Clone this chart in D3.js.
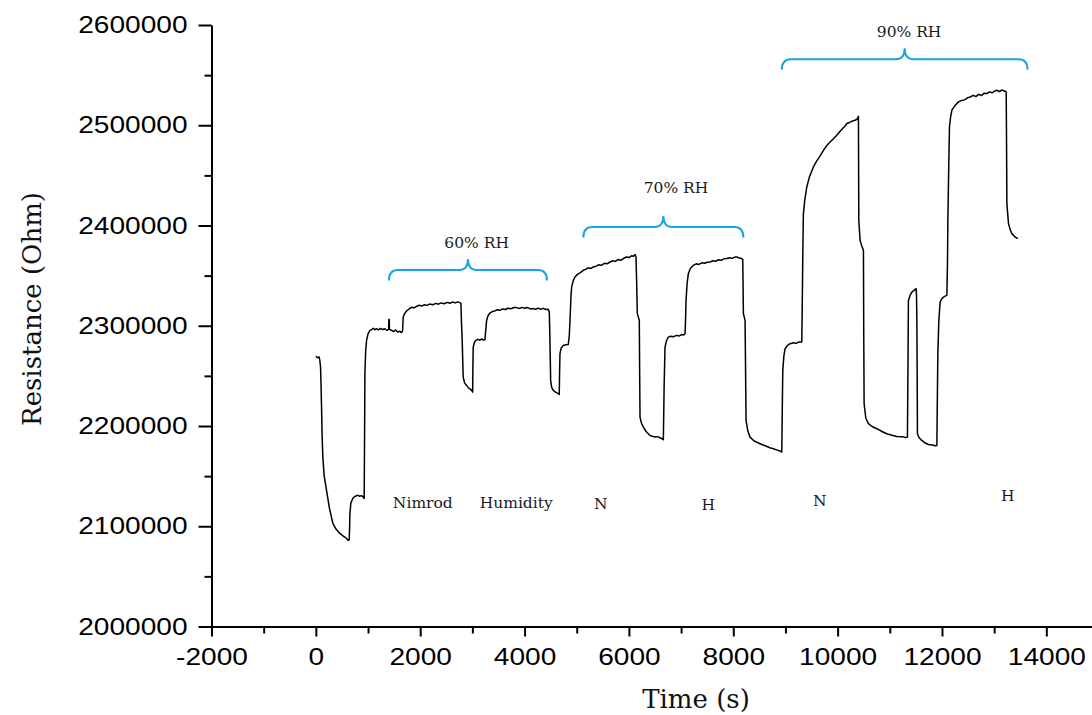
<!DOCTYPE html>
<html>
<head>
<meta charset="utf-8">
<script src="https://cdn.jsdelivr.net/npm/d3@7"></script>
<style>
  html, body { margin: 0; padding: 0; background: #ffffff; }
  svg { display: block; }
</style>
</head>
<body>
<svg id="chart" width="1092" height="715"></svg>
<script>
// ---------------- data ----------------
const timeS = [0,40,60,75,90,100,109,120,134,160,205,260,326,390,460,520,560,589,615,639,
648,652,670,709,740,770,805,840,870,901,926,
935,940,955,972,1000,1036,1070,1100,1130,1164,1200,1240,1280,1320,1360,1395,1400,1406,1410,1450,1490,1530,1570,1611,1640,1662,
1668,1674,1700,1739,1790,1840,1880,1931,1980,2030,2080,2130,2180,2243,2300,2350,2400,2460,2520,2569,2620,2670,2720,2761,2780,
2790,2805,2815,2824,2850,2890,2930,2960,2986,3005,
3010,3016,3040,3068,3100,3140,3180,3215,3241,3255,3273,3300,3336,3380,3430,3480,3528,3580,3630,3680,3740,3800,3848,3900,3950,4000,4060,4110,4161,4210,4260,4310,4360,4410,4454,4474,
4485,4500,4520,4550,4600,4640,4665,
4672,4679,4700,4742,4790,4838,4857,4871,4890,4903,4930,4966,5020,5070,5126,5170,5220,5270,5317,5370,5420,5470,5530,5580,5637,5690,5740,5790,5850,5900,5957,6000,6050,6090,6117,6136,
6150,6161,6199,6205,6213,6240,6276,6330,6405,6450,6500,6550,6596,6630,6660,
6675,6692,6720,6755,6800,6850,6916,6960,7010,7050,7076,7085,7095,7115,7139,7180,7235,7290,7340,7400,7450,7500,7555,7610,7660,7720,7770,7820,7875,7930,7980,8030,8067,8120,8160,8182,
8194,8226,8235,8245,8280,8322,8400,8514,8600,8700,8769,8830,8897,8930,
8940,8949,8970,8993,9040,9089,9150,9200,9260,9313,
9320,9333,9344,9370,9409,9460,9536,9600,9660,9728,9790,9850,9920,9984,10040,10100,10140,10176,10230,10280,10335,10370,10399,
10406,10431,10460,10495,10500,10508,10540,10591,10660,10752,10850,10943,11040,11135,11240,11300,11338,
11350,11357,11390,11423,11470,11505,11512,11519,11525,11530,11560,11614,11680,11741,11820,11870,11902,
11912,11921,11940,11965,12000,12029,12060,12094,
12105,12113,12130,12144,12165,12190,12250,12316,12380,12430,12490,12541,12600,12650,12700,12760,12810,12861,12910,12960,13010,13053,13100,13150,13190,13212,13231,
13238,13244,13275,13310,13340,13400,13455];

const resistanceOhm = [2269500,2268000,2269000,2266000,2258800,2240000,2218900,2190000,2169000,2150000,2135700,2118000,2102800,2097000,2092800,2090500,2089000,2087800,2086000,2086500,
2100000,2112000,2122800,2128000,2129500,2130200,2131000,2129800,2130500,2129700,2127700,
2200000,2252500,2275000,2285400,2292000,2295400,2296200,2297500,2296000,2297100,2295800,2297300,2296200,2297000,2295500,2296400,2306400,2306000,2296400,2295500,2294200,2295800,2293800,2294500,2293200,2294700,
2302000,2308700,2312000,2314700,2316800,2318500,2317800,2319400,2320500,2319600,2321000,2320300,2321600,2321000,2322300,2321500,2322800,2322000,2323300,2322500,2323600,2322800,2323800,2323100,2322100,
2305000,2285400,2265000,2248800,2243000,2240500,2237800,2236800,2235500,2233800,
2260000,2278700,2283500,2285400,2286500,2285600,2286800,2285800,2286100,2295000,2305400,2310000,2312700,2314200,2314800,2316000,2315400,2316800,2316200,2317500,2316900,2318200,2318100,2317200,2318300,2317400,2318100,2316800,2317100,2316500,2317600,2316400,2317300,2316200,2316400,2313700,
2290000,2245500,2238500,2235500,2233500,2232600,2231500,
2255000,2272200,2277500,2280400,2281000,2281400,2290000,2305400,2330000,2338600,2344500,2348600,2351500,2353000,2355300,2356200,2357800,2357200,2358600,2359400,2360800,2360300,2362300,2361800,2363600,2364800,2364200,2366000,2365400,2367300,2368600,2368000,2369800,2369400,2371000,2368600,
2340000,2312100,2305400,2260000,2208900,2203000,2198900,2194500,2190600,2189800,2189000,2189400,2188300,2187500,2186300,
2240000,2278700,2285000,2288700,2289600,2289000,2290400,2289700,2291200,2290800,2292100,2305000,2325300,2342000,2352000,2357300,2360300,2361800,2361200,2362800,2362300,2363400,2363600,2364800,2364300,2365800,2365300,2366800,2367000,2367800,2367200,2368500,2368600,2367500,2367000,2366300,
2312100,2305400,2260000,2205600,2195000,2188900,2185000,2182300,2180500,2178300,2177300,2176200,2175000,2174000,
2220000,2255500,2270000,2277100,2280500,2282100,2283000,2282400,2283800,2283700,
2310000,2372000,2411900,2425000,2438400,2448500,2458400,2464500,2469000,2475000,2479500,2483000,2486500,2490000,2493500,2497000,2499000,2501700,2502800,2504200,2505000,2506000,2509000,
2405200,2385200,2380000,2375000,2300000,2222300,2208000,2202300,2199500,2197300,2194500,2192300,2190800,2189600,2189400,2188600,2188900,
2270000,2325300,2330500,2333600,2335500,2337000,2330000,2305400,2250000,2192300,2188500,2185600,2183000,2181600,2181000,2180300,2180600,
2230000,2272200,2305000,2323700,2327000,2328600,2329500,2330300,
2360000,2405200,2460000,2498300,2508000,2515000,2519800,2523300,2524800,2525300,2527400,2528200,2529800,2528600,2530800,2529700,2532000,2531600,2533300,2532400,2534000,2534900,2533600,2535200,2534000,2534200,2533200,
2480000,2421800,2401900,2395500,2391900,2388500,2386900];

const xMajorTicks = [-2000,0,2000,4000,6000,8000,10000,12000,14000];
const xMinorTicks = [-1000,1000,3000,5000,7000,9000,11000,13000];
const yMajorTicks = [2000000,2100000,2200000,2300000,2400000,2500000,2600000];
const yMinorTicks = [2050000,2150000,2250000,2350000,2450000,2550000];

// brace annotations (data coordinates): start time, end time, level of flat part
const braceStart = [1400, 5126, 8930];
const braceEnd   = [4430, 8194, 13640];
const braceLevel = [2355600, 2398500, 2565900];
// brace labels (data coordinates of label baseline centre)
const braceLabel      = ["60% RH", "70% RH", "90% RH"];
const braceLabelTime  = [3082, 6903, 11370];
const braceLabelLevel = [2377300, 2432100, 2588300];

// gas labels (data coordinates)
const gasLabel = ["Nimrod", "Humidity", "N", "H", "N", "H"];
const gasTime  = [2050, 3840, 5460, 7520, 9660, 13260];
const gasLevel = [2118500, 2118500, 2117500, 2115800, 2120500, 2125500];

// ---------------- drawing ----------------
const svg = d3.select("#chart");
const x = d3.scaleLinear().domain([-2000, 15000]).range([211.5, 1098.5]);
const y = d3.scaleLinear().domain([2000000, 2600000]).range([626.5, 25]);

const tickFont = "'Liberation Sans', Arial, sans-serif";
const serifFont = "'DejaVu Serif', 'Liberation Serif', serif";

function stretch(sel, k) {
  sel.each(function() {
    const w = this.getComputedTextLength();
    d3.select(this).attr("textLength", w * k).attr("lengthAdjust", "spacingAndGlyphs");
  });
}

// x axis
const gx = svg.append("g").attr("transform", `translate(0,${y(2000000)})`)
  .call(d3.axisBottom(x).tickValues(xMajorTicks).tickFormat(d => String(d)).tickSize(10).tickSizeOuter(0).tickPadding(11));
gx.select(".domain").attr("stroke", "#000").attr("stroke-width", 2);
gx.selectAll(".tick line").attr("stroke", "#000").attr("stroke-width", 2);
gx.selectAll(".tick text").attr("font-family", tickFont).attr("font-size", 24).attr("fill", "#000").call(stretch, 1.17);

const gxm = svg.append("g").attr("transform", `translate(0,${y(2000000)})`)
  .call(d3.axisBottom(x).tickValues(xMinorTicks).tickFormat("").tickSize(7));
gxm.select(".domain").remove();
gxm.selectAll(".tick line").attr("stroke", "#000").attr("stroke-width", 2);

// y axis
const gy = svg.append("g").attr("transform", `translate(${x(-2000)},0)`)
  .call(d3.axisLeft(y).tickValues(yMajorTicks).tickFormat(d => String(d)).tickSize(13).tickSizeOuter(0).tickPadding(11));
gy.select(".domain").attr("stroke", "#000").attr("stroke-width", 2);
gy.selectAll(".tick line").attr("stroke", "#000").attr("stroke-width", 2);
gy.selectAll(".tick text").attr("font-family", tickFont).attr("font-size", 24).attr("fill", "#000").call(stretch, 1.17);

const gym = svg.append("g").attr("transform", `translate(${x(-2000)},0)`)
  .call(d3.axisLeft(y).tickValues(yMinorTicks).tickFormat("").tickSize(7));
gym.select(".domain").remove();
gym.selectAll(".tick line").attr("stroke", "#000").attr("stroke-width", 2);

// axis titles
svg.append("text").attr("x", 696).attr("y", 708).attr("text-anchor", "middle")
  .attr("font-family", serifFont).attr("font-size", 26).attr("fill", "#111").text("Time (s)");
svg.append("text").attr("transform", "translate(41,309) rotate(-90)").attr("text-anchor", "middle")
  .attr("font-family", serifFont).attr("font-size", 26).attr("fill", "#111").text("Resistance (Ohm)");

// data line
const pts = timeS.map((t, i) => [t, resistanceOhm[i]]);
svg.append("path").datum(pts)
  .attr("fill", "none").attr("stroke", "#000").attr("stroke-width", 1.5).attr("stroke-linejoin", "round")
  .attr("d", d3.line().x(d => x(d[0])).y(d => y(d[1])));

// braces
braceStart.forEach((s, i) => {
  const x1 = x(s), x2 = x(braceEnd[i]), yf = y(braceLevel[i]);
  const xm = (x1 + x2) / 2;
  const drop = 10.5, r = 9, tip = 11;
  const p = `M${x1},${yf + drop} Q${x1},${yf} ${x1 + r},${yf} L${xm - r},${yf} Q${xm},${yf} ${xm},${yf - tip} ` +
            `Q${xm},${yf} ${xm + r},${yf} L${x2 - r},${yf} Q${x2},${yf} ${x2},${yf + drop}`;
  svg.append("path").attr("d", p).attr("fill", "none").attr("stroke", "#1ba3e2").attr("stroke-width", 2);
  svg.append("text").attr("x", x(braceLabelTime[i])).attr("y", y(braceLabelLevel[i])).attr("text-anchor", "middle")
    .attr("font-family", serifFont).attr("font-size", 15.5).attr("fill", "#1a1a1a").text(braceLabel[i]);
});

// gas labels
gasLabel.forEach((lab, i) => {
  svg.append("text").attr("x", x(gasTime[i])).attr("y", y(gasLevel[i])).attr("text-anchor", "middle")
    .attr("font-family", serifFont).attr("font-size", 15.5).attr("fill", "#1a1a1a").text(lab);
});
</script>
</body>
</html>
